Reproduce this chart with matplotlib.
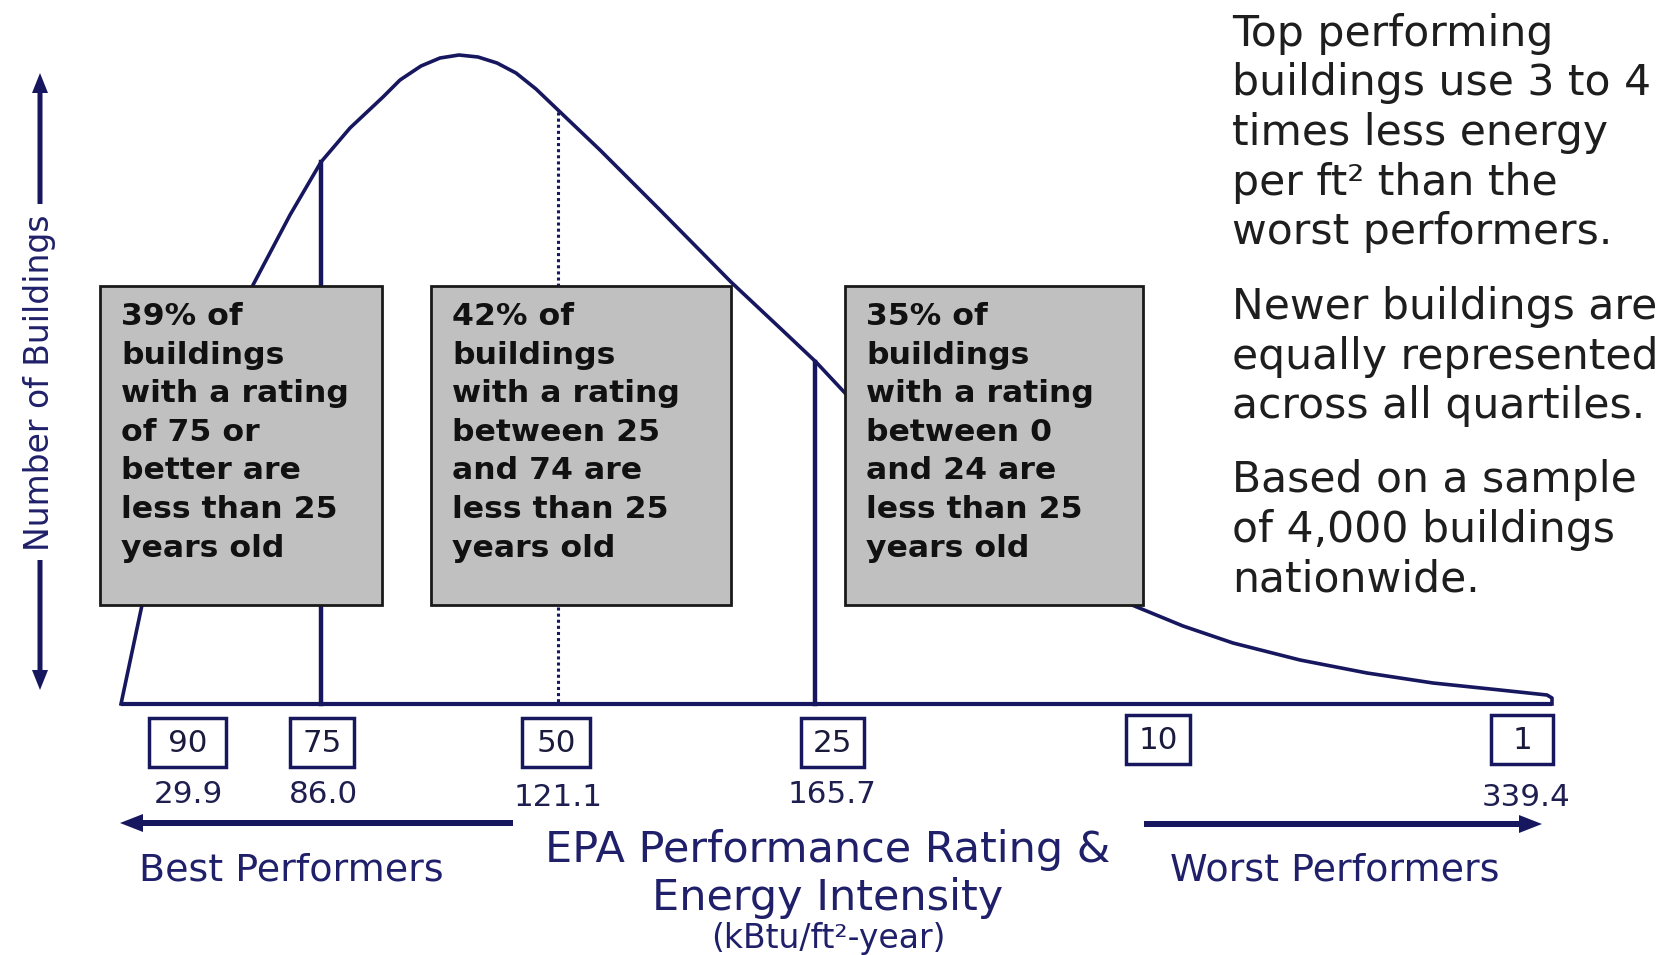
import numpy as np
import matplotlib.pyplot as plt
from matplotlib.patches import Rectangle, FancyArrow

# distribution curve (canvas pixels, y grows downwards)
curve_x = [121, 142, 170, 210, 253, 290, 321, 350, 383, 400, 421, 440, 459, 478,
           497, 516, 536, 558, 600, 660, 731, 780, 816, 845, 900, 960, 1020,
           1080, 1132, 1183, 1233, 1300, 1367, 1433, 1500, 1547, 1552, 1552]
curve_y = [704, 605, 510, 390, 285, 215, 162, 128, 97, 80, 66, 58, 55, 57,
           63, 73, 89, 110, 150, 210, 282, 328, 362, 393, 448, 498, 543,
           578, 605, 626, 643, 660, 673, 683, 690, 695, 698, 704]

# quartile markers: x position and top of the line
quartile_x = [321, 558, 815]
quartile_top = [162, 112, 362]
quartile_style = ['solid', 'dotted', 'solid']

# EPA rating boxes under the axis
ratings = ['90', '75', '50', '25', '10', '1']
rating_x = [187.5, 322, 556, 832.5, 1158, 1522]
rating_w = [77, 64, 68, 63, 64, 62]
rating_top = [718, 718, 718, 718, 715, 715]

# energy intensity (kBtu/ft2-year)
intensity = ['29.9', '86.0', '121.1', '165.7', '339.4']
intensity_x = [188, 323, 558, 832, 1526]
intensity_base = [803, 803, 806, 803, 806]

box_texts = [
    ['39% of', 'buildings', 'with a rating', 'of 75 or', 'better are',
     'less than 25', 'years old'],
    ['42% of', 'buildings', 'with a rating', 'between 25', 'and 74 are',
     'less than 25', 'years old'],
    ['35% of', 'buildings', 'with a rating', 'between 0', 'and 24 are',
     'less than 25', 'years old'],
]
box_left = [100, 431, 845]
box_right = [382, 731, 1143]

side_notes = [
    ['Top performing', 'buildings use 3 to 4', 'times less energy',
     'per ft\u00b2 than the', 'worst performers.'],
    ['Newer buildings are', 'equally represented', 'across all quartiles.'],
    ['Based on a sample', 'of 4,000 buildings', 'nationwide.'],
]
note_base = [46, 319, 492]

navy = '#17175f'
navy_txt = '#20206a'
PX = 1 / 1.3889   # pixels -> points at dpi 100

fig = plt.figure(figsize=(16.79, 9.55), dpi=100)
ax = fig.add_axes([0, 0, 1, 1])
ax.set_xlim(0, 1679)
ax.set_ylim(955, 0)
ax.axis('off')

# curve, baseline, quartile lines
ax.plot(curve_x, curve_y, color=navy, lw=2.6, solid_joinstyle='round', zorder=2)
ax.plot([121, 1552], [704, 704], color=navy, lw=3, solid_capstyle='butt', zorder=2)
for qx, qt, ls in zip(quartile_x, quartile_top, quartile_style):
    if ls == 'dotted':
        ax.plot([qx, qx], [qt, 704], color=navy, lw=2.2, ls=(0, (1, 1)), zorder=1)
    else:
        ax.plot([qx, qx], [qt, 704], color=navy, lw=3.2, zorder=1)

# grey annotation boxes
for lines, bl, br in zip(box_texts, box_left, box_right):
    ax.add_patch(Rectangle((bl, 286), br - bl, 605 - 286, facecolor='#c0c0c0',
                           edgecolor='#1a1a1a', lw=2, zorder=3))
    for i, line in enumerate(lines):
        ax.text(bl + 21, 325 + i * 38.6, line, fontsize=31.5 * PX,
                fontweight='bold', color='#111111', va='baseline', ha='left',
                family='DejaVu Sans', zorder=4)

# rating boxes and intensity values
for lab, cx, w, top in zip(ratings, rating_x, rating_w, rating_top):
    ax.add_patch(Rectangle((cx - w / 2, top), w, 49, facecolor='white',
                           edgecolor=navy, lw=2.5, zorder=3))
    ax.text(cx, top + 25, lab, fontsize=31 * PX, color='#1a1a3c',
            ha='center', va='center', zorder=4)
for lab, cx, yb in zip(intensity, intensity_x, intensity_base):
    ax.text(cx, yb, lab, fontsize=31 * PX, color='#1e1e50',
            ha='center', va='baseline')

# direction arrows
ax.add_patch(FancyArrow(513, 823, 120 - 513, 0, width=6, head_width=18,
                        head_length=23, length_includes_head=True,
                        color=navy, lw=0))
ax.add_patch(FancyArrow(1144, 824, 1542 - 1144, 0, width=6, head_width=18,
                        head_length=23, length_includes_head=True,
                        color=navy, lw=0))
ax.text(291, 880, 'Best Performers', fontsize=38 * PX, color=navy_txt,
        ha='center', va='baseline')
ax.text(1335, 880, 'Worst Performers', fontsize=38 * PX, color=navy_txt,
        ha='center', va='baseline')
ax.text(828, 862, 'EPA Performance Rating &', fontsize=43 * PX,
        color=navy_txt, ha='center', va='baseline')
ax.text(828, 910, 'Energy Intensity', fontsize=43 * PX, color=navy_txt,
        ha='center', va='baseline')
ax.text(828, 948, '(kBtu/ft\u00b2-year)', fontsize=33 * PX, color=navy_txt,
        ha='center', va='baseline')

# y label with arrows
ax.text(40, 383, 'Number of Buildings', fontsize=33 * PX, color=navy_txt,
        rotation=90, ha='center', va='center')
ax.add_patch(FancyArrow(40, 204, 0, 73 - 204, width=5, head_width=16,
                        head_length=20, length_includes_head=True,
                        color=navy, lw=0))
ax.add_patch(FancyArrow(40, 560, 0, 690 - 560, width=5, head_width=16,
                        head_length=20, length_includes_head=True,
                        color=navy, lw=0))

# notes on the right
for lines, yb in zip(side_notes, note_base):
    for i, line in enumerate(lines):
        ax.text(1232, yb + i * 49.5, line, fontsize=42.5 * PX, color='#1e1e1e',
                ha='left', va='baseline')

fig.savefig('out.png', dpi=100)
